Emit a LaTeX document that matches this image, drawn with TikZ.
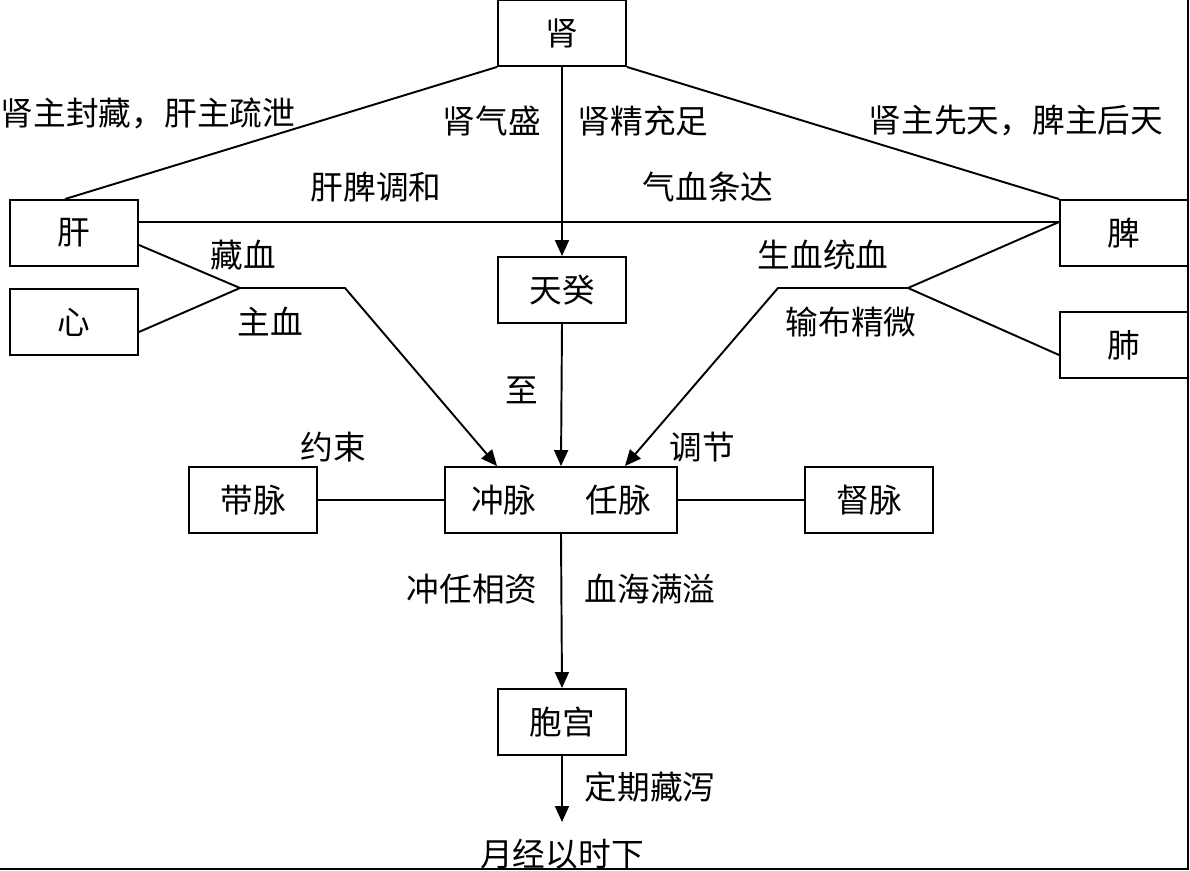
\documentclass[tikz,border=0pt]{standalone}
\usepackage{fontspec}
\setmainfont{Noto Sans CJK SC}
\usetikzlibrary{arrows.meta}

\begin{document}
\begin{tikzpicture}[x=0.02cm, y=-0.02cm,
    every node/.style={font=\fontsize{18.6}{21}\selectfont},
    box/.style={draw, line width=1.1pt, minimum width=2.56cm, minimum height=1.32cm, inner sep=0pt},
    link/.style={line width=1.1pt},
    feed/.style={line width=1.1pt, -{Triangle[length=0.32cm, width=0.28cm]}}]

    \useasboundingbox (0,0) rectangle (1190,871);
    \draw[line width=1.1pt] (0,869) -- (1188,869) -- (1188,0);

    % boxes
    \node[box] (shen) at (562,33) {肾};
    \node[box] (gan) at (74,233) {肝};
    \node[box] (xin) at (74,322) {心};
    \node[box] (pi) at (1124,233) {脾};
    \node[box] (fei) at (1124,345) {肺};
    \node[box] (tiangui) at (562,290) {天癸};
    \node[box, minimum width=4.64cm] (chongren) at (561,500) {冲脉\hspace{1.5em}任脉};
    \node[box] (daimai) at (253,500) {带脉};
    \node[box] (dumai) at (869,500) {督脉};
    \node[box] (baogong) at (562,722) {胞宫};
    \node (yuejing) at (562,854) {月经以时下};

    % junctions and ends
    \coordinate (ganTop) at ([xshift=-0.18cm]gan.north);
    \coordinate (ganUp) at ([yshift=0.22cm]gan.east);
    \coordinate (ganLow) at ([yshift=-0.24cm]gan.east);
    \coordinate (xinOut) at ([yshift=-0.2cm]xin.east);
    \coordinate (piIn) at ([yshift=0.22cm]pi.west);
    \coordinate (feiOut) at ([yshift=-0.2cm]fei.west);
    \coordinate (joinL) at (240,288);
    \coordinate (bendL) at (345,288);
    \coordinate (joinR) at (908,288);
    \coordinate (bendR) at (778,288);
    \coordinate (inL) at ([xshift=-1.28cm]chongren.north);
    \coordinate (inR) at ([xshift=1.28cm]chongren.north);
    \coordinate (outEnd) at (562,822);

    \draw[link] (shen.south west) -- (ganTop);
    \draw[link] (shen.south east) -- (pi.north west);
    \draw[feed] (shen.south) -- (tiangui.north);
    \draw[link] (ganUp) -- (piIn);
    \draw[link] (ganLow) -- (joinL) -- (xinOut);
    \draw[feed] (joinL) -- (bendL) -- (inL);
    \draw[link] (piIn) -- (joinR) -- (feiOut);
    \draw[feed] (joinR) -- (bendR) -- (inR);
    \draw[feed] (tiangui.south) -- (chongren.north);
    \draw[link] (daimai.east) -- (chongren.west);
    \draw[link] (chongren.east) -- (dumai.west);
    \draw[feed] (chongren.south) -- (baogong.north);
    \draw[feed] (baogong.south) -- (outEnd);

    % labels
    \node (tShenGan) at (148,113) {肾主封藏，肝主疏泄};
    \node (tQi) at (492,121) {肾气盛};
    \node (tJing) at (643,121) {肾精充足};
    \node (tShenPi) at (1016,121) {肾主先天，脾主后天};
    \node (tTiaohe) at (376,187) {肝脾调和};
    \node (tTiaoda) at (708,187) {气血条达};
    \node (tCang) at (243,255) {藏血};
    \node (tZhu) at (270,322) {主血};
    \node (tSheng) at (823,255) {生血统血};
    \node (tShu) at (851,322) {输布精微};
    \node (tZhi) at (522,390) {至};
    \node (tYue) at (333,447) {约束};
    \node (tTiao) at (702,447) {调节};
    \node (tZi) at (472,589) {冲任相资};
    \node (tMan) at (650,589) {血海满溢};
    \node (tXie) at (650,787) {定期藏泻};
\end{tikzpicture}
\end{document}
